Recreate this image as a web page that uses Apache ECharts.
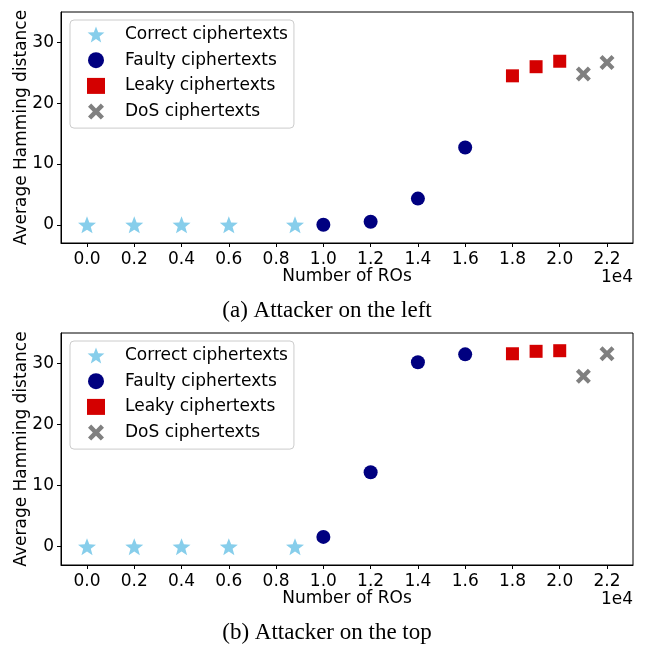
<!DOCTYPE html>
<html>
<head>
<meta charset="utf-8">
<script src="https://cdn.jsdelivr.net/npm/echarts@6/dist/echarts.min.js"></script>
<style>
html,body{margin:0;padding:0;background:#fff;}
#c{width:649px;height:645px;}
</style>
</head>
<body>
<div id="c"></div>
<script>
// ---- data ----
var xTicks = [0, 2000, 4000, 6000, 8000, 10000, 12000, 14000, 16000, 18000, 20000, 22000];
var yTicks = [0, 10, 20, 30];
var seriesNames = ['Correct ciphertexts', 'Faulty ciphertexts', 'Leaky ciphertexts', 'DoS ciphertexts'];

var correctX = [0, 2000, 4000, 6000, 8800];
var correctA = [0, 0, 0, 0, 0];
var correctB = [0, 0, 0, 0, 0];

var faultyX = [10000, 12000, 14000, 16000];
var faultyA = [0, 0.5, 4.3, 12.7];
var faultyB = [1.6, 12.2, 30.2, 31.5];

var leakyX = [18000, 19000, 20000];
var leakyA = [24.5, 26.0, 26.9];
var leakyB = [31.6, 32.0, 32.1];

var dosX = [21000, 22000];
var dosA = [24.8, 26.7];
var dosB = [27.9, 31.6];

var captions = ['(a) Attacker on the left', '(b) Attacker on the top'];

// ---- symbols ----
function starPath() {
  var pts = [];
  for (var i = 0; i < 10; i++) {
    var r = (i % 2 === 0) ? 1 : 0.42;
    var a = -Math.PI / 2 + i * Math.PI / 5;
    pts.push((r * Math.cos(a)).toFixed(4) + ' ' + (r * Math.sin(a)).toFixed(4));
  }
  return 'path://M' + pts.join(' L') + ' Z';
}
var STAR = starPath();
var XMARK = 'path://M-1 -0.6 L-0.6 -1 L0 -0.4 L0.6 -1 L1 -0.6 L0.4 0 L1 0.6 L0.6 1 L0 0.4 L-0.6 1 L-1 0.6 L-0.4 0 Z';

var colors = ['#87ceeb', '#000080', '#d40000', '#808080'];
var symbols = [STAR, 'circle', 'rect', XMARK];
var sizes = [18, 14, 13, 15];

function zip(xs, ys) { return xs.map(function (x, i) { return [x, ys[i]]; }); }

var FONT = 'DejaVu Sans';
var FS = 17;
var grids = [
  { left: 61, top: 12, width: 572, height: 231 },
  { left: 61, top: 333, width: 572, height: 232 }
];

function mkX(gi) {
  return {
    type: 'value', gridIndex: gi, min: -1100, max: 23100,
    axisLine: { show: true, onZero: false, lineStyle: { color: '#000', width: 1 } },
    axisTick: { show: true, inside: false, length: 4, customValues: xTicks, lineStyle: { color: '#000' } },
    axisLabel: { show: true, customValues: xTicks, margin: 8, color: '#000', fontFamily: FONT, fontSize: FS,
      formatter: function (v) { return (v / 10000).toFixed(1); } },
    splitLine: { show: false }
  };
}
function mkY(gi) {
  return {
    type: 'value', gridIndex: gi, min: -3, max: 35,
    axisLine: { show: true, onZero: false, lineStyle: { color: '#000', width: 1 } },
    axisTick: { show: true, inside: false, length: 4, customValues: yTicks, lineStyle: { color: '#000' } },
    axisLabel: { show: true, customValues: yTicks, margin: 7, color: '#000', fontFamily: FONT, fontSize: FS },
    splitLine: { show: false }
  };
}

var dataSets = [
  [zip(correctX, correctA), zip(faultyX, faultyA), zip(leakyX, leakyA), zip(dosX, dosA)],
  [zip(correctX, correctB), zip(faultyX, faultyB), zip(leakyX, leakyB), zip(dosX, dosB)]
];

var series = [];
for (var g = 0; g < 2; g++) {
  for (var s = 0; s < 4; s++) {
    series.push({
      type: 'scatter', name: seriesNames[s], xAxisIndex: g, yAxisIndex: g,
      symbol: symbols[s], symbolSize: sizes[s], symbolKeepAspect: true,
      itemStyle: { color: colors[s], opacity: 1 },
      data: dataSets[g][s], z: 3
    });
  }
}

function mkLegend(top) {
  return {
    orient: 'vertical', left: 70, top: top,
    data: seriesNames.map(function (n, i) { return { name: n, icon: symbols[i] }; }),
    itemWidth: 18, itemHeight: 16, itemGap: 8.7,
    padding: [6, 6, 8, 17],
    backgroundColor: '#fff', borderColor: '#cccccc', borderWidth: 1, borderRadius: 4,
    selectedMode: false,
    textStyle: { fontFamily: FONT, fontSize: FS, color: '#000', padding: [0, 0, 0, 15] }
  };
}

var graphics = [];
[0, 1].forEach(function (gi) {
  var gr = grids[gi];
  var bottom = gr.top + gr.height;
  graphics.push({ type: 'text', x: gr.left + gr.width / 2, y: bottom + 34,
    style: { text: 'Number of ROs', font: FS + 'px "DejaVu Sans"', fill: '#000', align: 'center', verticalAlign: 'middle' } });
  graphics.push({ type: 'text', x: gr.left + gr.width, y: bottom + 35,
    style: { text: '1e4', font: FS + 'px "DejaVu Sans"', fill: '#000', align: 'right', verticalAlign: 'middle' } });
  graphics.push({ type: 'text', x: 22, y: gr.top + gr.height / 2, rotation: Math.PI / 2,
    style: { text: 'Average Hamming distance', font: FS + 'px "DejaVu Sans"', fill: '#000', align: 'center', verticalAlign: 'middle' } });
  graphics.push({ type: 'text', x: 327, y: bottom + 68,
    style: { text: captions[gi], font: '23px "Liberation Serif"', fill: '#000', align: 'center', verticalAlign: 'middle' } });
  graphics.push({ type: 'rect', shape: { x: gr.left, y: gr.top, width: gr.width, height: gr.height },
    style: { fill: 'none', stroke: '#000', lineWidth: 1 }, silent: true, z: 10 });
});

var chart = echarts.init(document.getElementById('c'), null, { renderer: 'canvas' });
chart.setOption({
  animation: false,
  backgroundColor: '#fff',
  grid: grids.map(function (g) { return Object.assign({ containLabel: false, outerBoundsMode: 'none' }, g); }),
  xAxis: [mkX(0), mkX(1)],
  yAxis: [mkY(0), mkY(1)],
  legend: [mkLegend(20), mkLegend(341)],
  series: series,
  graphic: graphics
});
</script>
</body>
</html>
